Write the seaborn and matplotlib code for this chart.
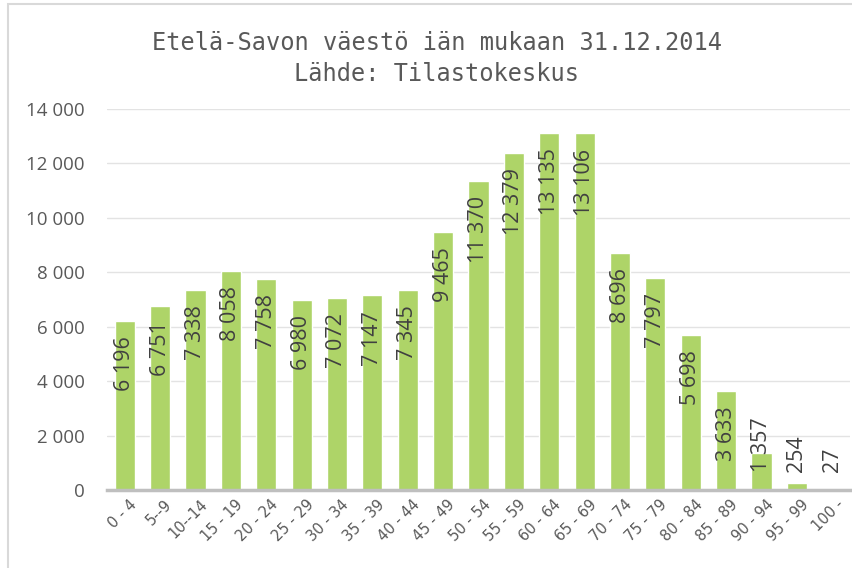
import pandas as pd
import matplotlib.pyplot as plt
import seaborn as sns
import numpy as np
from matplotlib.patches import Rectangle

ages = ['0 - 4', '5--9', '10--14', '15 - 19', '20 - 24', '25 - 29', '30 - 34',
        '35 - 39', '40 - 44', '45 - 49', '50 - 54', '55 - 59', '60 - 64',
        '65 - 69', '70 - 74', '75 - 79', '80 - 84', '85 - 89', '90 - 94',
        '95 - 99', '100 -']
population = [6196, 6751, 7338, 8058, 7758, 6980, 7072, 7147, 7345, 9465,
              11370, 12379, 13135, 13106, 8696, 7797, 5698, 3633, 1357, 254, 27]

data = pd.DataFrame({'ika': ages, 'vaesto': population})

def fmt(v):
    return '{:,}'.format(v).replace(',', ' ')

sns.set_style('white')
plt.rcParams['font.family'] = ['Open Sans', 'DejaVu Sans']
txt = '#595959'

fig = plt.figure(figsize=(8.53, 5.68), dpi=100)
ax = fig.add_axes([107/853, (568-490)/568, (850-107)/853, (490-109)/568])

# outer chart border
fig.patches.append(Rectangle((8/853, -0.1), 2, (568-4)/568 + 0.1,
                             transform=fig.transFigure, fill=False,
                             edgecolor='#D9D9D9', linewidth=1.5))

sns.barplot(data=data, x='ika', y='vaesto', color='#AED468', saturation=1,
            width=0.57, ax=ax, zorder=2)

ax.set_ylim(0, 14000)
ax.set_xlim(-0.5, len(ages) - 0.5)
ax.yaxis.grid(True, color='#E3E3E3', linewidth=1, zorder=0)
ax.set_axisbelow(True)
ax.tick_params(axis='y', length=0, pad=16, labelsize=13.5, labelcolor=txt)
ax.set_yticks(np.arange(0, 14001, 2000))
ax.set_yticklabels([fmt(v) for v in range(0, 14001, 2000)])
ax.set_xticks(range(len(ages)))
ax.set_xticklabels([])
ax.tick_params(axis='x', length=0)
# rotated category labels
for i, a in enumerate(ages):
    t = ax.text(i + 0.12, -250, a, rotation=44.9, ha='right', va='top',
                rotation_mode='anchor', fontsize=10.5, color=txt,
                family='DejaVu Sans', clip_on=False)
ax.set_xlabel('')
ax.set_ylabel('')
for s in ['top', 'right', 'left']:
    ax.spines[s].set_visible(False)
ax.spines['bottom'].set_color('#BFBFBF')
ax.spines['bottom'].set_linewidth(2.5)
ax.spines['bottom'].set_zorder(3)

# data labels, inside end
for i, v in enumerate(population):
    if v > 3000:
        ax.annotate(fmt(v), (i, v), xytext=(0, -11), textcoords='offset points',
                    rotation=90, ha='center', va='top', fontsize=15.5,
                    color='#404040')
    else:
        ax.text(i, 650, fmt(v), rotation=90, ha='center', va='bottom',
                fontsize=15.5, color='#404040')

fig.text(437/853, 1 - 43/568, 'Etelä-Savon väestö iän mukaan 31.12.2014',
         ha='center', va='center', fontsize=17, color=txt,
         family='DejaVu Sans Mono')
fig.text(437/853, 1 - 74/568, 'Lähde: Tilastokeskus',
         ha='center', va='center', fontsize=17, color=txt,
         family='DejaVu Sans Mono')

plt.savefig('out.png', dpi=100)
